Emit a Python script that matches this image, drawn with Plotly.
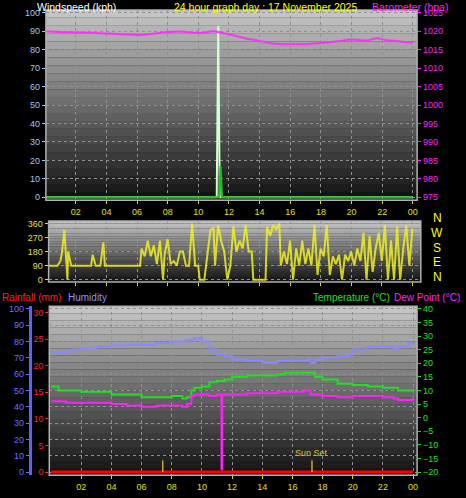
import plotly.graph_objects as go

hours_gust = [0, 11.2, 11.3, 11.4, 24]
gust = [0, 0, 93, 0, 0]
hours_wind = [0, 11.35, 11.45, 11.55, 24]
wind = [0, 0, 17, 0, 0]

baro_h = [0, 1, 2, 3, 4, 5, 6, 7, 8, 9, 10, 11, 11.5, 12, 13, 14, 15, 16, 17, 18, 19, 20, 21, 21.7, 22, 23, 24]
baro = [1020, 1019.8, 1019.7, 1019.6, 1019.4, 1019.2, 1019, 1019.3, 1019.8, 1019.9, 1019.5, 1020, 1019.6, 1019.2,
        1018.2, 1017.4, 1016.6, 1016.5, 1016.5, 1016.8, 1017.2, 1017.8, 1017.5, 1018.2, 1017.8, 1017.3, 1016.9]

dir_h = [0.2, 0.8, 1.0, 1.1, 1.25, 1.35, 1.45, 1.5, 1.7, 3.0, 3.1, 3.3, 3.6, 3.8, 3.9, 6.2, 6.3, 6.5, 6.7, 6.9, 7.1,
         7.3, 7.5, 7.7, 7.8, 8.0, 8.2, 8.4, 8.6, 8.8, 9.0, 9.2, 9.4, 9.6, 9.8, 10.0, 10.1, 10.4, 10.6, 10.8, 11.0,
         11.1, 11.3, 11.5, 11.7, 11.9, 12.1, 12.3, 12.5, 12.7, 12.9, 13.1, 13.3, 13.5, 13.6, 14.4, 14.5, 14.7, 14.9,
         15.1, 15.3, 15.4, 15.6, 15.8, 16.0, 16.2, 16.4, 16.6, 16.8, 17.0, 17.2, 17.4, 17.6, 17.8, 18.0, 18.2, 18.4,
         18.6, 18.8, 19.0, 19.2, 19.4, 19.6, 19.8, 20.0, 20.2, 20.4, 20.6, 20.8, 21.0, 21.2, 21.4, 21.6, 21.8, 22.0,
         22.2, 22.4, 22.6, 22.8, 23.0, 23.2, 23.4, 23.6, 23.8, 24.0]
wdir = [90, 90, 120, 180, 320, 180, 0, 180, 90, 90, 160, 90, 90, 240, 90, 90, 200, 150, 250, 150, 220,
        100, 250, 0, 160, 260, 100, 120, 90, 180, 180, 90, 90, 360, 90, 90, 0, 0, 150, 320, 330,
        90, 350, 250, 180, 0, 90, 340, 180, 250, 200, 350, 180, 180, 0, 0, 340, 280, 350,
        320, 360, 90, 180, 100, 250, 0, 200, 90, 250, 100, 200, 90, 350, 30, 200, 150, 350,
        30, 150, 100, 160, 0, 160, 120, 180, 90, 200, 120, 300, 0, 280, 50, 200, 300, 120,
        350, 0, 250, 0, 340, 0, 200, 350, 90, 330]

hum_h = [0, 1, 1.5, 2, 3, 4, 5, 6, 7, 8, 9, 9.5, 10, 10.5, 11, 11.5, 12, 13, 14, 15, 16, 17, 17.2, 17.5, 18, 19,
         19.7, 20, 21, 22, 22.7, 23, 23.7, 24]
hum = [73, 74, 75, 76, 77, 77.5, 78, 78, 79, 80, 81, 82, 80, 75, 72, 71, 69, 68, 67, 68, 68, 69, 67, 69, 70, 71,
       72, 75, 77, 77, 76, 77, 79, 79]

temp_h = [0, 0.5, 2, 4, 6, 7, 8, 8.7, 9, 9.3, 9.5, 10, 10.5, 11, 11.5, 12, 13, 14, 15, 15.5, 16, 17, 17.5, 18, 19,
          20, 21, 22, 23, 24]
temp = [11.5, 10, 9.5, 8.5, 7.5, 7.5, 8, 7, 7.5, 10, 11, 11.5, 13, 13.5, 14, 15, 15.5, 15.5, 16, 16.5, 16.5, 16.5,
        15, 14, 12.5, 12, 11.5, 11, 10, 10.5]

dew_h = [0, 1, 2, 3, 4, 5, 6, 7, 8, 8.7, 9, 9.3, 9.5, 10, 10.5, 11, 11.25, 11.3, 11.35, 12, 13, 14, 15, 16, 16.8,
         17.2, 18, 19, 20, 21, 22, 22.7, 23, 24]
dew = [6, 5.5, 5.5, 5.5, 5, 4.5, 4, 4.5, 4.5, 4, 5, 8, 8.5, 8.5, 8, 8.5, 8.5, -19, 8.5, 8.5, 9, 9, 9.5, 9.5, 10,
       8.5, 8, 7.5, 8, 8, 7.5, 7, 6.5, 7.5]

rain_h = [0, 24]
rain = [0, 0]

sun_h = [7.4, 17.3]
sun_len = [2.2, 2.2]

tick_h = [2, 4, 6, 8, 10, 12, 14, 16, 18, 20, 22, 24]
tick_t = ["02", "04", "06", "08", "10", "12", "14", "16", "18", "20", "22", "00"]

F = "Liberation Sans"
fig = go.Figure()

fig.add_trace(go.Scatter(x=baro_h, y=baro, xaxis="x", yaxis="y2", mode="lines",
                         line=dict(color="#ff30ff", width=2, shape="spline")))
fig.add_trace(go.Scatter(x=hours_gust, y=gust, xaxis="x", yaxis="y", mode="lines",
                         line=dict(color="#d0ffd0", width=2)))
fig.add_trace(go.Scatter(x=hours_wind, y=wind, xaxis="x", yaxis="y", mode="lines",
                         line=dict(color="#20c020", width=2)))

fig.add_trace(go.Scatter(x=dir_h, y=wdir, xaxis="x2", yaxis="y3", mode="lines",
                         line=dict(color="rgba(240,240,32,0.85)", width=2)))

fig.add_trace(go.Scatter(x=rain_h, y=rain, xaxis="x3", yaxis="y5", mode="lines",
                         line=dict(color="#ff0000", width=3)))
for h, l in zip(sun_h, sun_len):
    fig.add_trace(go.Scatter(x=[h, h], y=[0, l], xaxis="x3", yaxis="y5", mode="lines",
                             line=dict(color="#c8b020", width=1.5)))
fig.add_trace(go.Scatter(x=hum_h, y=hum, xaxis="x3", yaxis="y4", mode="lines", line_shape="hv",
                         line=dict(color="#8888ff", width=2)))
fig.add_trace(go.Scatter(x=temp_h, y=temp, xaxis="x3", yaxis="y6", mode="lines", line_shape="hv",
                         line=dict(color="#20e020", width=2)))
fig.add_trace(go.Scatter(x=dew_h, y=dew, xaxis="x3", yaxis="y6", mode="lines", line_shape="hv",
                         line=dict(color="#ff20ff", width=2)))

grid = dict(showgrid=True, gridcolor="#909090", griddash="dot", gridwidth=1, zeroline=False)
xcommon = dict(tickvals=tick_h, ticktext=tick_t, tickfont=dict(family=F, size=9, color="#e0e000"),
               ticks="outside", ticklen=3, tickcolor="#e0e000", showline=False, **grid)
yfont = lambda c: dict(family=F, size=9, color=c)

fig.update_layout(
    width=466, height=498, margin=dict(l=0, r=0, t=0, b=0),
    paper_bgcolor="black", plot_bgcolor="#202020", showlegend=False,
    xaxis=dict(domain=[0.0987, 0.897], range=[0.05, 24.28], anchor="y", **xcommon),
    yaxis=dict(domain=[0.598, 0.984], range=[-1.6, 101.6], tickvals=list(range(0, 101, 10)),
               tickfont=yfont("#a0c8f0"), ticks="outside", ticklen=3, tickcolor="#a0c8f0", **grid),
    yaxis2=dict(overlaying="y", side="right", range=[974.2, 1025.8], tickvals=list(range(975, 1026, 5)),
                tickfont=yfont("#ff20ff"), ticks="outside", ticklen=3, tickcolor="#ff20ff", showgrid=False,
                zeroline=False),
    xaxis2=dict(domain=[0.1045, 0.905], range=[0.22, 24.55], anchor="y3", showticklabels=False,
                **{k: v for k, v in xcommon.items() if k not in ("tickfont",)}),
    yaxis3=dict(domain=[0.432, 0.556], range=[-15, 377], tickvals=[0, 90, 180, 270, 360], anchor="x2",
                tickfont=yfont("#e0e040"), ticks="outside", ticklen=3, tickcolor="#e0e040", **grid),
    xaxis3=dict(domain=[0.106, 0.897], range=[-0.12, 24.27], anchor="y4", **xcommon),
    yaxis4=dict(domain=[0.040, 0.383], range=[-2.0, 101.6], tickvals=list(range(0, 101, 10)),
                anchor="free", position=0.064, tickfont=yfont("#7070ff"), ticks="outside", ticklen=3,
                tickcolor="#7070ff", showline=True, linecolor="#6060ff", linewidth=3, **grid),
    yaxis5=dict(overlaying="y4", range=[-0.6, 31.2], tickvals=list(range(0, 31, 5)), anchor="free",
                position=0.104, tickfont=yfont("#ff2020"), ticks="outside", ticklen=3, tickcolor="#ff2020",
                showgrid=False, zeroline=False),
    yaxis6=dict(overlaying="y4", side="right", anchor="x3", range=[-21.2, 41], tickvals=list(range(-20, 41, 5)),
                tickfont=yfont("#20e020"), ticks="outside", ticklen=3, tickcolor="#20e020", showgrid=False,
                zeroline=False),
)

shapes = []
N = 24
for xr, yr in (("x", "y"), ("x2", "y3"), ("x3", "y4")):
    for i in range(N):
        v = int(16 + (200 - 16) * (i + 0.5) / N)
        shapes.append(dict(type="rect", xref=xr + " domain", yref=yr + " domain", x0=0, x1=1,
                           y0=i / N, y1=(i + 1) / N, fillcolor=f"rgb({v},{v},{v})",
                           line=dict(width=0), layer="below"))
    shapes.append(dict(type="rect", xref=xr + " domain", yref=yr + " domain", x0=0, x1=1, y0=0, y1=1,
                       line=dict(color="#b0b0b0", width=1.5), layer="above"))
fig.update_layout(shapes=shapes)

ann = [
    dict(x=0.075, y=1.006, text="Windspeed (kph)", font=dict(color="white", family=F, size=10.5)),
    dict(x=0.37, y=1.006, text="24 hour graph day : 17 November 2025", font=dict(color="#ffff00", family=F, size=10.5)),
    dict(x=0.795, y=1.006, text="Barometer (hpa)", font=dict(color="#ff20ff", family=F, size=10.5)),
    dict(x=0.0, y=0.416, text="Rainfall (mm)", font=dict(color="#ff2020", family=F, size=10)),
    dict(x=0.141, y=0.416, text="Humidity", font=dict(color="#9090ff", family=F, size=10)),
    dict(x=0.668, y=0.416, text="Temperature (°C)", font=dict(color="#20e020", family=F, size=10)),
    dict(x=0.842, y=0.416, text="Dew Point (°C)", font=dict(color="#ff20ff", family=F, size=10)),
]
for a in ann:
    a.update(xref="paper", yref="paper", xanchor="left", yanchor="top", showarrow=False)
for i, l in enumerate("NWSEN"):
    ann.append(dict(xref="paper", yref="paper", x=0.94, y=0.562 - i * 0.03, text=l, showarrow=False,
                    xanchor="center", yanchor="middle", font=dict(color="#ffff00", family=F, size=12)))
ann.append(dict(xref="x3", yref="y5", x=sun_h[1], y=2.2, text="Sun Set", showarrow=False, yanchor="bottom",
                font=dict(color="#d8c040", family=F, size=9)))
fig.update_layout(annotations=ann)

fig.write_html("out.html", config={"displayModeBar": False})
with open("out.html", encoding="utf-8") as f:
    html = f.read()
html = html.replace("<head>", "<head><style>html,body{margin:0;padding:0;background:black;}</style>", 1)
with open("out.html", "w", encoding="utf-8") as f:
    f.write(html)
